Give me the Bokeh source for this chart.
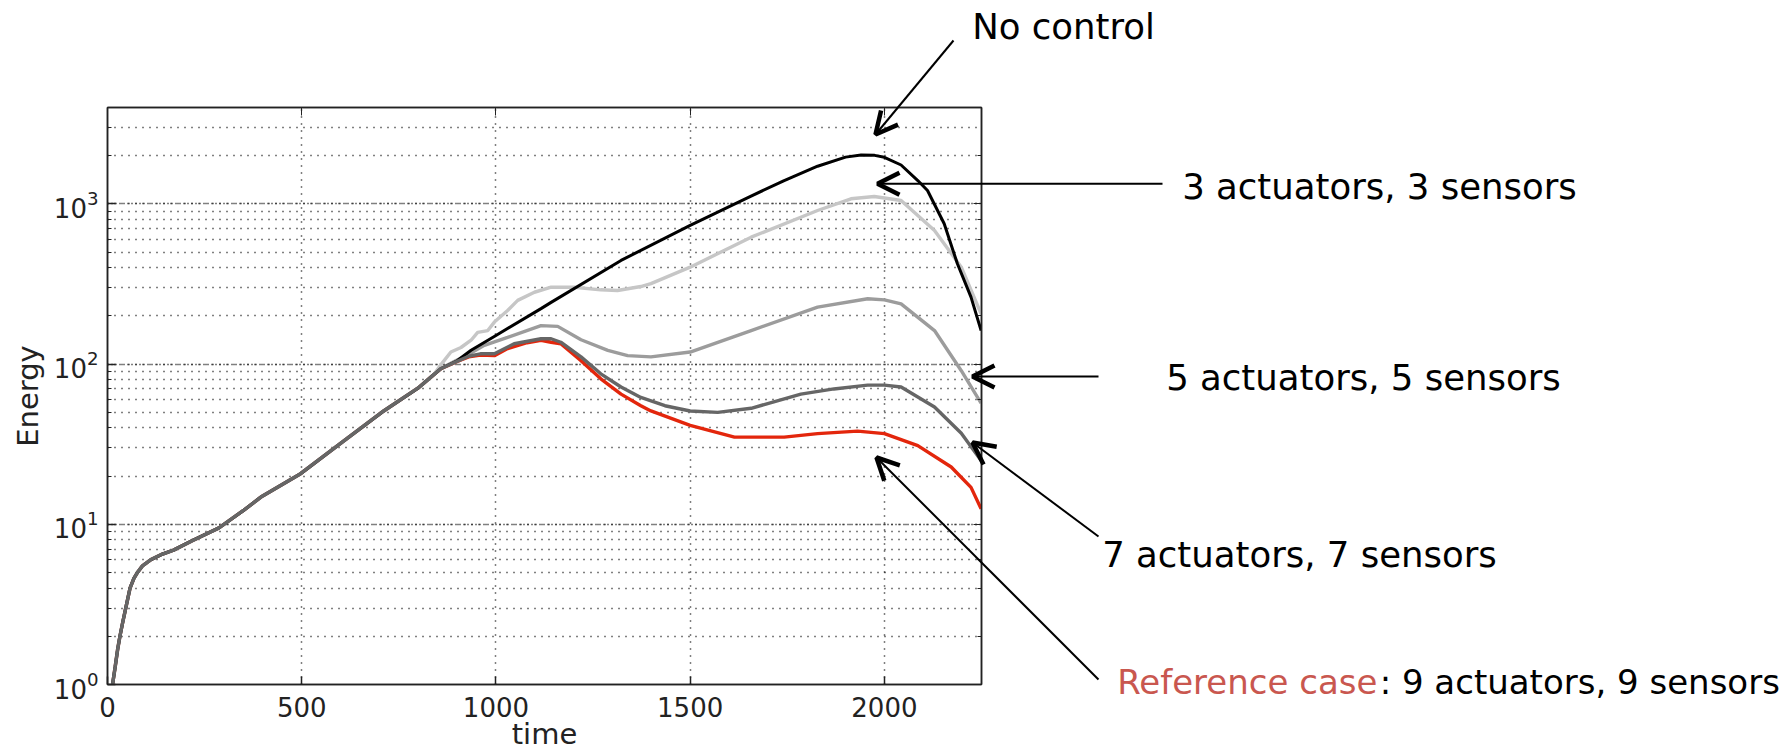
from bokeh.plotting import figure
from bokeh.models import (Range1d, Label, Arrow, OpenHead, LinearAxis, LogAxis,
                          SingleIntervalTicker, LogTicker, GridBox, Row)
from bokeh.embed import file_html
from bokeh.resources import INLINE

# ---------------- data ----------------
t_common = [13, 20, 26, 32, 40, 47, 58, 68, 77, 90, 111, 140, 170, 218, 287,
            350, 395, 497, 600, 711, 800, 840]
E_common = [1.0, 1.3, 1.65, 2.0, 2.5, 3.0, 4.0, 4.6, 5.0, 5.5, 6.0, 6.5, 6.9,
            7.9, 9.5, 12.2, 14.8, 20.7, 32, 51, 71, 86]

t_nocontrol = [858, 900, 936, 1000, 1116, 1142, 1322, 1500, 1650, 1742, 1828,
               1900, 1940, 1975, 2000, 2043, 2086, 2111, 2154, 2188, 2223, 2249]
E_nocontrol = [93.6, 105, 122, 151, 222, 243, 444, 735, 1100, 1400, 1720,
               1960, 2020, 2010, 1955, 1750, 1400, 1213, 752, 423, 262, 162]

t_act3 = [858, 884, 910, 936, 953, 979, 996, 1030, 1056, 1099, 1142, 1202,
          1270, 1313, 1373, 1399, 1500, 1657, 1828, 1914, 1974, 2043, 2129,
          2198, 2249]
E_act3 = [99, 119, 127, 141, 158, 162, 183, 216, 250, 281, 302, 302, 291, 288,
          305, 318, 403, 620, 910, 1077, 1112, 1050, 682, 403, 206]

t_act5 = [858, 900, 930, 970, 1030, 1116, 1159, 1219, 1288, 1339, 1399, 1500,
          1657, 1828, 1957, 2000, 2043, 2129, 2198, 2249]
E_act5 = [94, 106, 115, 131, 147, 174, 172, 142, 122, 113, 111, 119, 162, 227,
          256, 252, 238, 162, 91, 57]

t_act7 = [858, 900, 930, 960, 996, 1047, 1116, 1142, 1167, 1219, 1270, 1322,
          1373, 1435, 1500, 1571, 1657, 1785, 1870, 1957, 2000, 2043, 2129,
          2198, 2249]
E_act7 = [93.6, 104, 112, 116, 116, 134, 144, 144, 137, 111, 87, 72, 62, 55,
          51, 50, 53, 65, 70, 74, 74, 72, 54, 37, 25]

t_ref = [858, 900, 930, 960, 996, 1030, 1080, 1116, 1142, 1167, 1219, 1270,
         1322, 1373, 1399, 1500, 1614, 1742, 1828, 1931, 2000, 2086, 2172,
         2223, 2249]
E_ref = [93.6, 104, 111, 114, 113, 125, 136, 141, 137, 134, 105, 81, 65, 55,
         51, 41.5, 35, 35, 36.8, 38.2, 36.8, 31, 22.8, 17, 12.5]

x_ticks_interval = 500
x_min, x_max = 0, 2250
y_min, y_max = 1, 4000

labels_text = ["No control", "3 actuators, 3 sensors", "5 actuators, 5 sensors",
               "7 actuators, 7 sensors"]
ref_label_red = "Reference case"
ref_label_black = ": 9 actuators, 9 sensors"
x_label = "time"
y_label = "Energy"

# ---------------- layout ----------------
W, H = 1789, 751
L, R, T, B = 107, 981, 107, 684
FONT = "DejaVu Sans"
ANN_SIZE = 35.5
REF_SIZE = 34
DY = -11          # baseline correction for Label placement
INK = "#222222"
TICK_SIZE = "26px"

p = figure(width=W, height=H, output_backend="svg", toolbar_location=None,
           y_axis_type="log", x_range=Range1d(x_min, x_max),
           y_range=Range1d(y_min, y_max),
           min_border_left=L, min_border_right=W - R,
           min_border_top=T, min_border_bottom=H - B)
p.background_fill_color = "white"
p.border_fill_color = "white"
p.outline_line_color = INK
p.outline_line_width = 1.5

# grid (MATLAB-like dotted)
p.xgrid.ticker = SingleIntervalTicker(interval=x_ticks_interval)
p.xgrid.grid_line_color = "black"
p.xgrid.grid_line_dash = "1 6"
p.xgrid.grid_line_width = 1.5
p.ygrid.grid_line_color = "black"
p.ygrid.grid_line_dash = "1 3"
p.ygrid.grid_line_width = 1.5
p.ygrid.minor_grid_line_color = "black"
p.ygrid.minor_grid_line_dash = "1 6"
p.ygrid.minor_grid_line_width = 1.5

# axes
p.xaxis.ticker = SingleIntervalTicker(interval=x_ticks_interval)
for ax in [p.xaxis[0], p.yaxis[0]]:
    ax.axis_line_color = INK
    ax.axis_line_width = 1.5
    ax.major_tick_in = 8
    ax.major_tick_out = 0
    ax.minor_tick_in = 4
    ax.minor_tick_out = 0
    ax.major_tick_line_color = INK
    ax.minor_tick_line_color = INK
    ax.major_tick_line_width = 1.5
    ax.major_label_text_font = FONT
    ax.major_label_text_font_size = TICK_SIZE
    ax.major_label_text_color = INK
p.xaxis.minor_tick_line_color = None
p.xaxis.major_label_standoff = 12
p.yaxis.major_label_standoff = 9
p.yaxis.axis_label = y_label
p.yaxis.axis_label_text_font = FONT
p.yaxis.axis_label_text_font_size = "29px"
p.yaxis.axis_label_text_font_style = "normal"
p.yaxis.axis_label_text_color = INK
p.yaxis.axis_label_standoff = 6

top_ax = LinearAxis(ticker=SingleIntervalTicker(interval=x_ticks_interval))
right_ax = LogAxis(ticker=LogTicker())
for ax in [top_ax, right_ax]:
    ax.major_label_text_font_size = "0px"
    ax.major_label_text_color = None
    ax.axis_line_color = INK
    ax.axis_line_width = 1.5
    ax.major_tick_in = 8
    ax.major_tick_out = 0
    ax.minor_tick_in = 4
    ax.minor_tick_out = 0
    ax.major_tick_line_color = INK
    ax.minor_tick_line_color = INK
    ax.major_label_standoff = 0
top_ax.minor_tick_line_color = None
p.add_layout(top_ax, "above")
p.add_layout(right_ax, "right")

# curves
series = [
    (t_ref, E_ref, "#e3260c", 3.4),
    (t_act3, E_act3, "#c6c6c6", 3.4),
    (t_act5, E_act5, "#9c9c9c", 3.4),
    (t_nocontrol, E_nocontrol, "#000000", 3.0),
    (t_act7, E_act7, "#666666", 3.4),
]
for ts, es, col, lw in series:
    p.line(t_common + ts, E_common + es, line_color=col, line_width=lw)

# ---------------- overlay for the call-out texts and arrows ----------------
# a transparent figure whose frame is the whole canvas, in pixel units
q = figure(width=W, height=H, output_backend="svg", toolbar_location=None,
           x_range=Range1d(0, W), y_range=Range1d(H, 0),
           x_axis_location=None, y_axis_location=None, min_border=0)
q.grid.visible = False
q.outline_line_color = None
q.background_fill_color = None
q.border_fill_color = None

label_pos = [(971.7, 36.7), (1181.7, 197.3), (1165.7, 388.3), (1101.7, 565)]
for txt, (px, py) in zip(labels_text, label_pos):
    q.add_layout(Label(x=px, y=py + DY, text=txt, text_font=FONT,
                       text_font_size=f"{ANN_SIZE}px", text_color="black",
                       text_align="left", text_baseline="alphabetic"))
ref_x, ref_y = 1116.7, 692.7
q.add_layout(Label(x=ref_x, y=ref_y + DY, text=ref_label_red,
                   text_font=FONT, text_font_size=f"{REF_SIZE}px",
                   text_color="#c9574f", text_align="left",
                   text_baseline="alphabetic"))
q.add_layout(Label(x=ref_x + 7.719 * REF_SIZE, y=ref_y + DY,
                   text=ref_label_black, text_font=FONT,
                   text_font_size=f"{REF_SIZE}px", text_color="black",
                   text_align="left", text_baseline="alphabetic"))
q.add_layout(Label(x=(L + R) / 2, y=744 + DY, text=x_label, text_font=FONT,
                   text_font_size="29px", text_color=INK,
                   text_align="center", text_baseline="alphabetic"))

arrows = [
    ((953, 40), (875, 134)),
    ((1162, 183.3), (877, 183.3)),
    ((1098, 376), (972, 376)),
    ((1098, 536), (972, 442)),
    ((1098, 679), (876, 457)),
]
for (sx, sy), (ex, ey) in arrows:
    q.add_layout(Arrow(end=OpenHead(size=22, line_width=4.5, line_color="black"),
                       x_start=sx, y_start=sy, x_end=ex, y_end=ey,
                       line_color="black", line_width=2))

# both figures share one grid cell; wrapping keeps their frames independent
layout = GridBox(children=[(Row(children=[p]), 0, 0), (Row(children=[q]), 0, 0)])
open("out.html", "w").write(file_html(layout, INLINE))
